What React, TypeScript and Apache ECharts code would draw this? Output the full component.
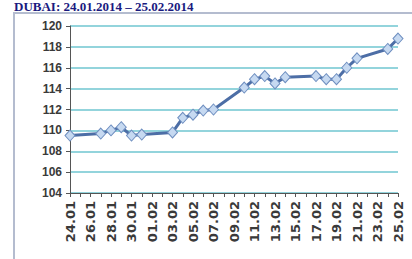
import React, { useEffect, useRef } from "react";
import * as echarts from "echarts";

const titleText = "DUBAI: 24.01.2014 – 25.02.2014";

const calendarDays = [
  "24.01", "25.01", "26.01", "27.01", "28.01", "29.01", "30.01", "31.01",
  "01.02", "02.02", "03.02", "04.02", "05.02", "06.02", "07.02", "08.02",
  "09.02", "10.02", "11.02", "12.02", "13.02", "14.02", "15.02", "16.02",
  "17.02", "18.02", "19.02", "20.02", "21.02", "22.02", "23.02", "24.02",
  "25.02",
];

const tradingDays = [
  "24.01", "27.01", "28.01", "29.01", "30.01", "31.01",
  "03.02", "04.02", "05.02", "06.02", "07.02",
  "10.02", "11.02", "12.02", "13.02", "14.02",
  "17.02", "18.02", "19.02", "20.02", "21.02",
  "24.02", "25.02",
];

const values = [
  109.5, 109.7, 110.0, 110.3, 109.5, 109.6,
  109.8, 111.2, 111.5, 111.9, 112.0,
  114.1, 114.9, 115.2, 114.5, 115.1,
  115.2, 114.9, 114.9, 116.0, 116.9,
  117.8, 118.8,
];

const yMin = 104;
const yMax = 120;
const yStep = 2;

export default function App() {
  const ref = useRef<HTMLDivElement>(null);
  useEffect(() => {
    if (!ref.current) return;
    const chart = echarts.init(ref.current, null, { renderer: "svg" });
    chart.setOption({
      animation: false,
      backgroundColor: "#ffffff",
      graphic: [
        {
          type: "rect",
          shape: { x: 14, y: 13, width: 420, height: 270 },
          style: { fill: "#ffffff", stroke: "#b4bccf", lineWidth: 2 },
          z: -10,
        },
        {
          type: "text",
          left: 14,
          top: 0,
          style: {
            text: titleText,
            fill: "#1a1a80",
            font: "bold 13px 'Liberation Serif', serif",
          },
        },
      ],
      grid: { left: 70, right: 14, top: 26, bottom: 66 },
      xAxis: {
        type: "category",
        data: calendarDays,
        boundaryGap: false,
        axisLine: { lineStyle: { color: "#555", width: 1 } },
        axisTick: { interval: 0, length: 4, inside: false, lineStyle: { color: "#555" } },
        axisLabel: {
          interval: 1,
          rotate: 90,
          margin: 8,
          color: "#3a3a3a",
          fontFamily: "DejaVu Sans",
          fontWeight: "bold",
          fontSize: 13,
        },
        splitLine: { show: false },
      },
      yAxis: {
        type: "value",
        min: yMin,
        max: yMax,
        interval: yStep,
        axisLine: { show: true, lineStyle: { color: "#555", width: 1 } },
        axisTick: { show: true, length: 4, lineStyle: { color: "#555" } },
        axisLabel: {
          color: "#3a3a3a",
          fontFamily: "Liberation Sans",
          fontWeight: "bold",
          fontSize: 12,
          margin: 8,
        },
        splitLine: { lineStyle: { color: "#6fc6d0", width: 1.5 } },
      },
      series: [
        {
          type: "line",
          data: tradingDays.map((d, i) => [d, values[i]]),
          showAllSymbol: true,
          symbol: "diamond",
          symbolSize: [10, 11],
          lineStyle: { color: "#4d6ea6", width: 3 },
          itemStyle: { color: "#c6d9f1", borderColor: "#6f8fc0", borderWidth: 1 },
        },
      ],
    });
    return () => chart.dispose();
  }, []);
  return (
    <div
      ref={ref}
      style={{ position: "fixed", left: 0, top: 0, width: 412, height: 259 }}
    />
  );
}
